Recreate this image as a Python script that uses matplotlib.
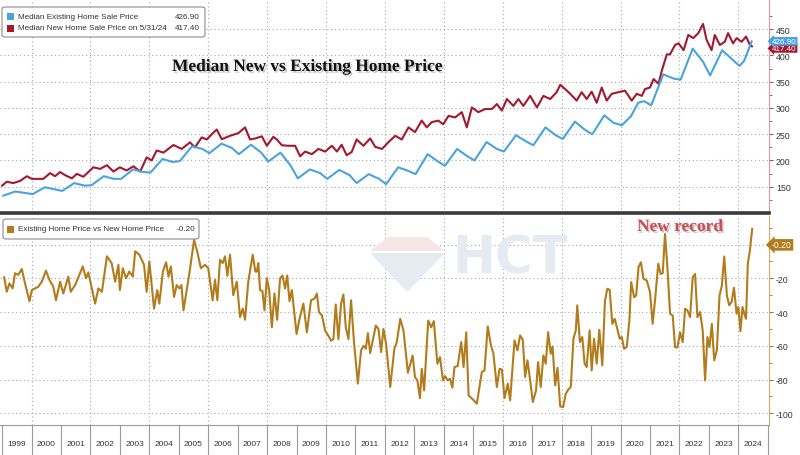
import matplotlib
matplotlib.use("Agg")
import matplotlib.pyplot as plt
import matplotlib.patches as mpatches
import matplotlib.patheffects as pe
import matplotlib.transforms as mtransforms
import numpy as np

plt.rcParams['font.family'] = ['Liberation Sans', 'DejaVu Sans']
plt.rcParams['axes.unicode_minus'] = False

# Median existing home sale price (thousand $)
existing_t = [1999.04, 1999.45, 1999.8, 2000.04, 2000.45, 2000.8, 2001.04, 2001.45, 2001.8,
              2002.04, 2002.45, 2002.8, 2003.04, 2003.45, 2003.8, 2004.04, 2004.45, 2004.8,
              2005.04, 2005.45, 2005.8, 2006.04, 2006.45, 2006.8, 2007.04, 2007.45, 2007.8,
              2008.04, 2008.45, 2008.8, 2009.04, 2009.45, 2009.8, 2010.04, 2010.45, 2010.8,
              2011.04, 2011.45, 2011.8, 2012.04, 2012.45, 2012.8, 2013.04, 2013.45, 2013.8,
              2014.04, 2014.45, 2014.8, 2015.04, 2015.45, 2015.8, 2016.04, 2016.45, 2016.8,
              2017.04, 2017.45, 2017.8, 2018.04, 2018.45, 2018.8, 2019.04, 2019.45, 2019.75,
              2020.04, 2020.35, 2020.6, 2020.8, 2021.04, 2021.45, 2021.8, 2022.04, 2022.45,
              2022.8, 2023.04, 2023.45, 2023.8, 2024.04, 2024.2, 2024.45]
existing_v = [133, 141, 138, 136, 149, 145, 142, 157, 152,
              153, 170, 165, 165, 183, 178, 177, 203, 197,
              199, 227, 222, 214, 232, 224, 212, 230, 215,
              198, 215, 190, 166, 183, 176, 165, 182, 172,
              157, 174, 165, 155, 187, 180, 174, 212, 198,
              190, 222, 208, 200, 235, 222, 217, 248, 236,
              229, 263, 248, 241, 274, 258, 250, 286, 272,
              267, 284, 310, 313, 305, 364, 356, 354, 413,
              388, 362, 410, 392, 380, 390, 426.9]

# Median new home sale price (thousand $)
new_t = [1999.0, 1999.16, 1999.38, 1999.61, 1999.84, 2000.01, 2000.4, 2000.63, 2000.8, 2000.97,
         2001.14, 2001.37, 2001.54, 2001.76, 2002.1, 2002.33, 2002.56, 2002.78, 2003.0, 2003.23,
         2003.46, 2003.69, 2003.91, 2004.08, 2004.25, 2004.48, 2004.82, 2005.1, 2005.38, 2005.55,
         2005.78, 2005.95, 2006.12, 2006.29, 2006.46, 2006.74, 2007.02, 2007.25, 2007.42, 2007.6,
         2007.82, 2007.99, 2008.21, 2008.33, 2008.5, 2008.72, 2008.95, 2009.12, 2009.29, 2009.52,
         2009.74, 2009.97, 2010.2, 2010.37, 2010.53, 2010.7, 2010.87, 2011.04, 2011.27, 2011.5,
         2011.67, 2011.9, 2012.12, 2012.35, 2012.57, 2012.8, 2013.02, 2013.25, 2013.42, 2013.59,
         2013.81, 2013.98, 2014.16, 2014.38, 2014.61, 2014.78, 2014.95, 2015.17, 2015.4, 2015.63,
         2015.8, 2015.97, 2016.14, 2016.36, 2016.53, 2016.7, 2016.93, 2017.16, 2017.38, 2017.61,
         2017.83, 2017.95, 2018.12, 2018.29, 2018.51, 2018.68, 2018.85, 2019.02, 2019.19, 2019.36,
         2019.53, 2019.7, 2019.93, 2020.15, 2020.38, 2020.55, 2020.72, 2020.83, 2021.0, 2021.12,
         2021.29, 2021.4, 2021.57, 2021.68, 2021.85, 2021.97, 2022.14, 2022.3, 2022.47, 2022.64,
         2022.8, 2022.92, 2023.09, 2023.2, 2023.37, 2023.54, 2023.65, 2023.82, 2023.94, 2024.11,
         2024.26, 2024.39, 2024.46]
new_v = [152, 159.5, 157, 161, 170, 165, 165, 176, 170, 178,
         172, 166, 174.5, 169, 187, 184, 191, 179, 187, 181,
         189, 179, 206, 200, 219, 215, 229.5, 222, 234.5, 225,
         244, 240, 250, 259, 240.5, 247, 252, 263, 240, 242,
         246, 228, 245, 240, 229, 228, 228, 208, 217, 212,
         222, 217, 228, 217, 230, 210, 216, 240, 228, 242,
         226, 222, 235, 247, 240, 263, 254, 276, 263, 273,
         276, 269, 285, 282, 292, 263, 301, 292, 298, 298,
         307.5, 295, 317, 304, 317, 304, 323, 301, 323, 317,
         330, 344, 336, 327, 314, 330, 317, 331, 310, 339,
         314, 327, 330, 333, 314, 327, 323, 336, 339, 355,
         346, 371, 402, 402, 420, 423, 410, 439, 433, 442.5,
         460, 430, 410, 439, 420, 426, 442.5, 423, 433, 426,
         436, 420, 417.4]

# Existing home price vs new home price
spread_t = [1999.07, 1999.16, 1999.25, 1999.36, 1999.44, 1999.55, 1999.67, 1999.78, 1999.93, 2000.01,
            2000.12, 2000.23, 2000.35, 2000.49, 2000.61, 2000.74, 2000.83, 2000.97, 2001.08, 2001.25,
            2001.33, 2001.48, 2001.74, 2001.85, 2001.93, 2002.16, 2002.27, 2002.39, 2002.56, 2002.72,
            2002.84, 2002.95, 2003.0, 2003.1, 2003.21, 2003.32, 2003.44, 2003.52, 2003.66, 2003.82,
            2003.91, 2004.0, 2004.16, 2004.27, 2004.34, 2004.46, 2004.57, 2004.65, 2004.73, 2004.84,
            2004.93, 2005.02, 2005.09, 2005.16, 2005.36, 2005.52, 2005.63, 2005.75, 2005.89, 2006.0,
            2006.15, 2006.23, 2006.31, 2006.4, 2006.49, 2006.57, 2006.65, 2006.74, 2006.85, 2006.97,
            2007.08, 2007.17, 2007.25, 2007.36, 2007.51, 2007.6, 2007.65, 2007.7, 2007.76, 2007.84,
            2007.91, 2007.99, 2008.07, 2008.16, 2008.25, 2008.34, 2008.44, 2008.52, 2008.61, 2008.68,
            2008.76, 2008.84, 2009.0, 2009.1, 2009.23, 2009.35, 2009.49, 2009.61, 2009.69, 2009.76,
            2009.86, 2009.97, 2010.08, 2010.17, 2010.25, 2010.33, 2010.42, 2010.51, 2010.59, 2010.67,
            2010.76, 2010.85, 2010.95, 2011.08, 2011.19, 2011.27, 2011.35, 2011.42, 2011.5, 2011.61,
            2011.69, 2011.78, 2011.87, 2011.95, 2012.04, 2012.18, 2012.32, 2012.4, 2012.52, 2012.63,
            2012.78, 2012.94, 2013.02, 2013.1, 2013.19, 2013.25, 2013.33, 2013.47, 2013.57, 2013.66,
            2013.78, 2013.87, 2013.97, 2014.04, 2014.13, 2014.21, 2014.29, 2014.36, 2014.47, 2014.59,
            2014.67, 2014.76, 2014.84, 2015.0, 2015.12, 2015.29, 2015.38, 2015.49, 2015.6, 2015.68,
            2015.8, 2015.89, 2015.97, 2016.06, 2016.17, 2016.25, 2016.4, 2016.5, 2016.59, 2016.68,
            2016.76, 2016.84, 2016.93, 2017.02, 2017.13, 2017.2, 2017.29, 2017.38, 2017.46, 2017.54,
            2017.63, 2017.69, 2017.78, 2017.86, 2017.95, 2018.05, 2018.14, 2018.22, 2018.31, 2018.4,
            2018.48, 2018.53, 2018.62, 2018.7, 2018.78, 2018.85, 2018.95, 2019.02, 2019.1, 2019.19,
            2019.28, 2019.38, 2019.47, 2019.55, 2019.63, 2019.72, 2019.8, 2019.89, 2019.97, 2020.04,
            2020.12, 2020.21, 2020.3, 2020.36, 2020.46, 2020.53, 2020.61, 2020.69, 2020.78, 2020.89,
            2021.0, 2021.09, 2021.17, 2021.28, 2021.36, 2021.43, 2021.51, 2021.59, 2021.68, 2021.77,
            2021.85, 2021.93, 2022.02, 2022.11, 2022.19, 2022.27, 2022.36, 2022.45, 2022.53, 2022.61,
            2022.7, 2022.79, 2022.87, 2022.95, 2023.02, 2023.1, 2023.18, 2023.27, 2023.36, 2023.44,
            2023.52, 2023.61, 2023.69, 2023.77, 2023.85, 2023.94, 2024.0, 2024.07, 2024.14, 2024.2,
            2024.26, 2024.32, 2024.39, 2024.47]
spread_v = [-19.4, -28, -23, -26, -17, -18, -14.5, -23, -33.6, -27,
            -26, -25, -22, -15.5, -21, -25, -33, -22, -29, -19,
            -28, -24, -13, -20, -16.5, -35, -26, -28, -7, -11,
            -22, -12, -27, -14, -20, -16, -19, -4, -6, -12,
            -28, -10, -38, -27, -35, -16, -10.5, -19, -13, -31,
            -24, -26, -24, -39, -17, 2.7, -4.5, -14, -12, -14,
            -33, -21, -33, -9, -11, -7, -18.5, -6, -30, -22,
            -43, -38, -44.5, -22, -6, -16, -16, -11, -27, -27.6,
            -39, -20, -27, -49, -29, -44.6, -20, -18.3, -26, -18.3,
            -33.5, -27, -53, -44, -35, -52, -33, -32, -29, -40,
            -42, -51, -54, -57, -56, -35.5, -56, -35, -29.6, -49,
            -56, -33, -58, -82.4, -62.7, -60, -61.7, -52.5, -64.3, -55,
            -48, -50, -63.7, -50, -59, -84.4, -61.7, -58, -44, -51,
            -76, -65.7, -78.5, -80.5, -91, -73.6, -86.4, -45, -49, -45.4,
            -70.6, -66.7, -80.5, -78, -80.5, -79.5, -84.8, -72.6, -72, -57.8,
            -72.6, -52, -89.3, -92, -94.3, -75.5, -74.6, -48.5, -59.8, -64.3,
            -84.4, -73.6, -74, -91, -82.4, -92.3, -56.8, -62.7, -53.8, -56.4,
            -78.5, -68.6, -80.5, -93.3, -86.4, -69.6, -84.4, -65.7, -70.6, -51.9,
            -64.7, -60.4, -83.4, -73, -95.9, -96.3, -88.4, -86, -84.4, -55.8,
            -50.9, -36, -57.8, -54.8, -70.6, -72.6, -50.9, -74.6, -55.8, -70.6,
            -50.5, -71.6, -33.5, -26.2, -26.8, -47, -44, -50, -55.8, -54.8,
            -61.7, -60.7, -45, -22.3, -31.2, -30.2, -13.4, -10.5, -20.3, -21.3,
            -28.2, -47, -33.1, -11.4, -17.4, -17, 6.3, -13.4, -41, -42,
            -60.7, -61, -52, -57.8, -38, -39, -43, -19.3, -17.4, -43,
            -40, -51, -80.5, -54.8, -60.7, -47, -68.6, -62.7, -30.2, -24.3,
            -7.1, -30.2, -36, -34, -25.6, -41, -37, -51.3, -37, -41,
            -44, -11.4, -3.6, 9.3]

years = list(range(1999, 2025))
grid_years = list(range(2000, 2025, 2))

blue = '#4aa3df'
red = '#a3192f'
gold = '#b27c1c'

W, H = 800, 456
fig = plt.figure(figsize=(8, 4.56), dpi=100)
ax1 = fig.add_axes([0, 1 - 214 / H, 769 / W, 214 / H])
ax2 = fig.add_axes([0, 1 - 426 / H, 769 / W, 209 / H], sharex=ax1)

dot = (0, (1, 2.5))
for ax in (ax1, ax2):
    ax.set_facecolor('none')
    for yr in grid_years:
        ax.axvline(yr, color='#a8a8a8', lw=0.8, ls=dot, zorder=0)
    ax.spines['left'].set_visible(False)
    ax.spines['top'].set_visible(False)
    ax.yaxis.tick_right()
    ax.tick_params(axis='y', which='both', direction='out', labelsize=6.3,
                   labelcolor='#333333', pad=2)
    ax.tick_params(axis='y', which='major', length=3)
    ax.tick_params(axis='y', which='minor', length=2)

# top panel
ax1.plot(new_t, new_v, color=red, lw=1.5, zorder=3)
ax1.plot(existing_t, existing_v, color=blue, lw=1.5, zorder=4)
ax1.set_ylim(100, 507.5)
ax1.set_yticks(range(150, 451, 50))
ax1.set_yticks(range(125, 476, 25), minor=True)
for v in range(150, 451, 50):
    ax1.axhline(v, color='#a8a8a8', lw=0.8, ls=dot, zorder=0)
ax1.spines['right'].set_color('#d59aa4')
ax1.tick_params(axis='y', which='both', color='#b04458')
ax1.spines['bottom'].set_color('#3a3a3a')
ax1.spines['bottom'].set_linewidth(2.6)
ax1.tick_params(axis='x', which='both', bottom=False, labelbottom=False)

# bottom panel
ax2.plot(spread_t, spread_v, color=gold, lw=1.5, zorder=3)
ax2.set_ylim(-106.9, 16.9)
ax2.set_yticks(range(-100, -19, 20))
ax2.set_yticks(range(-100, 11, 10), minor=True)
for v in range(-100, 1, 20):
    ax2.axhline(v, color='#a8a8a8', lw=0.8, ls=dot, zorder=0)
ax2.spines['right'].set_color('#d2ad6a')
ax2.tick_params(axis='y', which='both', color='#a07020')
ax2.spines['bottom'].set_color('#9a9a9a')

ax2.set_xlim(1998.93, 2025.04)
ax2.set_xticks([y + 0.5 for y in years])
ax2.set_xticklabels([str(y) for y in years])
ax2.set_xticks(years + [2025], minor=True)
ax2.tick_params(axis='x', which='major', length=0, pad=11, labelsize=6, labelcolor='#333333')
ax2.tick_params(axis='x', which='minor', length=22, width=0.8, color='#9a9a9a', direction='out')

# value tags on the right (red one tucked just under the blue one)
tr1 = mtransforms.blended_transform_factory(ax1.transAxes, ax1.transData)
ax1.text(1.004, new_v[-1] - 4, '%.2f' % new_v[-1], transform=tr1, fontsize=5.8, color='white',
         va='center', ha='left', clip_on=False,
         bbox=dict(boxstyle='larrow,pad=0.1', fc=red, ec='none'))
ax1.text(1.004, existing_v[-1], '%.2f' % existing_v[-1], transform=tr1, fontsize=5.8, color='white',
         va='center', ha='left', clip_on=False,
         bbox=dict(boxstyle='larrow,pad=0.1', fc=blue, ec='none'))
tr2 = mtransforms.blended_transform_factory(ax2.transAxes, ax2.transData)
ax2.text(1.004, -0.2, '-0.20', transform=tr2, fontsize=6.2, color='white',
         va='center', ha='left', clip_on=False,
         bbox=dict(boxstyle='larrow,pad=0.15', fc=gold, ec='none'))


def fx(x):
    return x / W


def fy(y):
    return 1 - y / H


# legend boxes
def legend_box(x0, y0, x1, y1):
    box = mpatches.FancyBboxPatch((fx(x0), fy(y1)), fx(x1 - x0), (y1 - y0) / H,
                                  boxstyle='round,pad=0,rounding_size=0.004',
                                  transform=fig.transFigure, fc='white', ec='#8c8c8c',
                                  lw=0.8, zorder=10)
    fig.add_artist(box)


def legend_row(y, color, label, value, xr):
    fig.add_artist(mpatches.Rectangle((fx(7), fy(y + 3.5)), fx(7), 7 / H, transform=fig.transFigure,
                                      fc=color, ec='none', zorder=11))
    fig.text(fx(18), fy(y), label, fontsize=5.9, color='#333333', va='center', ha='left', zorder=11)
    fig.text(fx(xr), fy(y), value, fontsize=5.9, color='#333333', va='center', ha='right', zorder=11)


legend_box(2, 8, 205, 38)
legend_row(17.5, blue, 'Median Existing Home Sale Price', '%.2f' % existing_v[-1], 200)
legend_row(29, red, 'Median New Home Sale Price on 5/31/24', '%.2f' % new_v[-1], 200)
legend_box(3, 220, 199, 240)
legend_row(230, gold, 'Existing Home Price vs New Home Price', '-0.20', 195)

# watermark
fig.add_artist(mpatches.Polygon([[fx(370), fy(252)], [fx(388), fy(238)], [fx(427), fy(238)],
                                 [fx(445), fy(252)]], closed=True, transform=fig.transFigure,
                                fc='#f6e6e6', ec='none', zorder=1))
fig.add_artist(mpatches.Polygon([[fx(370), fy(254)], [fx(445), fy(254)], [fx(407), fy(293)]],
                                closed=True, transform=fig.transFigure,
                                fc='#e6ebf2', ec='none', zorder=1))
fig.text(fx(452), fy(259), 'HCT', fontsize=37, fontweight='bold', color='#e6ebf2',
         family='DejaVu Sans', va='center', ha='left', zorder=1)

shadow = [pe.withSimplePatchShadow(offset=(1.2, -1.2), shadow_rgbFace='#9a9a9a', alpha=0.6)]
fig.text(fx(172), fy(68), 'Median New vs Existing Home Price', family='Liberation Serif',
         fontweight='bold', fontsize=12.5, color='#111111', va='center', ha='left',
         path_effects=shadow, zorder=12)
fig.text(fx(637), fy(228), 'New record', family='Liberation Serif', fontweight='bold',
         fontsize=12.5, color='#d04a55', va='center', ha='left', path_effects=shadow, zorder=12)

fig.savefig('out.png', dpi=100, facecolor='white')
